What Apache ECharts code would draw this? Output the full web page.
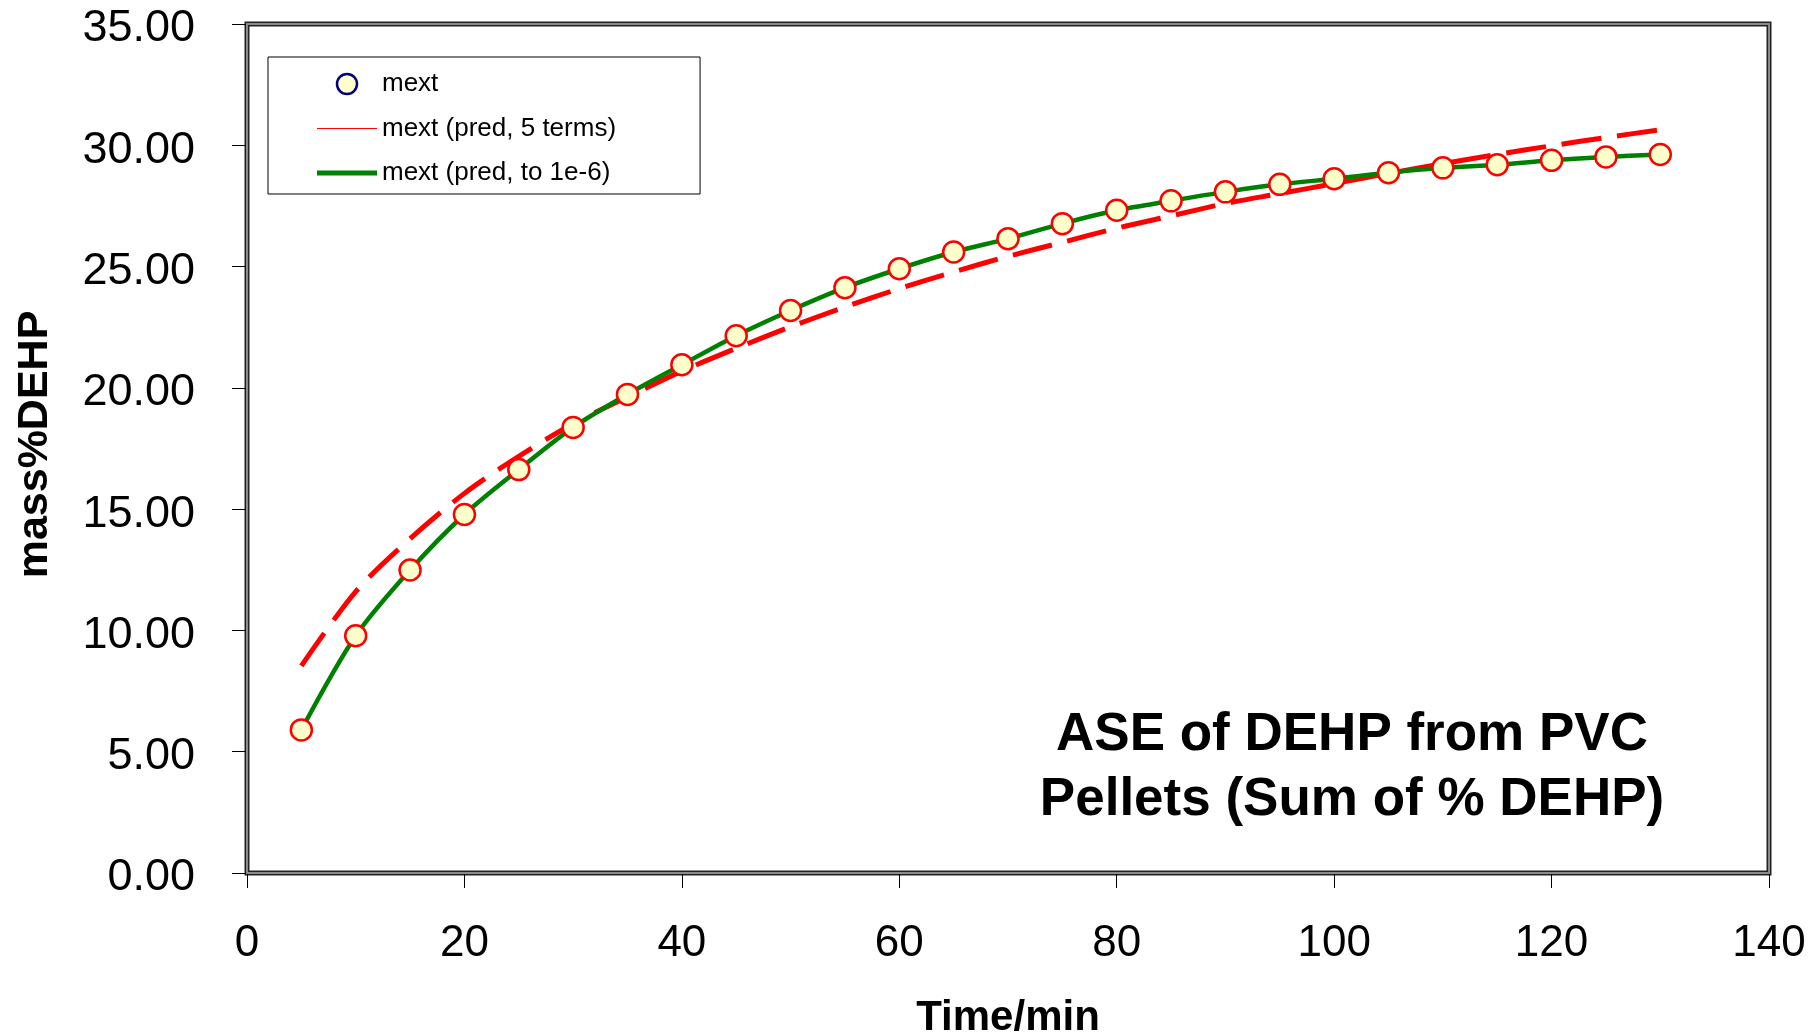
<!DOCTYPE html>
<html>
<head>
<meta charset="utf-8">
<title>ASE of DEHP from PVC Pellets</title>
<script src="https://cdn.jsdelivr.net/npm/echarts@6/dist/echarts.min.js"></script>
<style>
  html, body { margin: 0; padding: 0; background: #ffffff; overflow: hidden; }
  #chart { width: 1816px; height: 1033px; }
</style>
</head>
<body>
<div id="chart"></div>
<script>
// Extraction time (min)
const timeMin = [5, 10, 15, 20, 25, 30, 35, 40, 45, 50, 55, 60, 65,
                 70, 75, 80, 85, 90, 95, 100, 105, 110, 115, 120, 125, 130];

// Measured cumulative extraction, mass% DEHP
const mextMeasured = [5.90, 9.78, 12.49, 14.78, 16.63, 18.37, 19.73, 20.95, 22.15, 23.19,
                      24.13, 24.91, 25.60, 26.15, 26.77, 27.32, 27.71, 28.08, 28.39, 28.62,
                      28.87, 29.07, 29.20, 29.38, 29.52, 29.62];

// Model prediction truncated at 5 series terms
const mextPred5 = [8.54, 11.60, 13.78, 15.65, 17.18, 18.52, 19.62, 20.69, 21.63, 22.52,
                   23.33, 24.09, 24.78, 25.42, 26.00, 26.58, 27.09, 27.60, 28.01, 28.42,
                   28.84, 29.24, 29.62, 29.98, 30.32, 30.64];

// Model prediction summed until terms fall below 1e-6
const mextPredFull = [5.90, 9.78, 12.49, 14.78, 16.63, 18.37, 19.73, 20.95, 22.15, 23.19,
                      24.13, 24.91, 25.60, 26.15, 26.77, 27.32, 27.71, 28.08, 28.39, 28.62,
                      28.87, 29.07, 29.20, 29.38, 29.52, 29.62];

const seriesNames = ['mext', 'mext (pred, 5 terms)', 'mext (pred, to 1e-6)'];
const annotation = 'ASE of DEHP from PVC\nPellets (Sum of % DEHP)';

const FONT = 'Liberation Sans, Arial, Helvetica, sans-serif';
const W = 1816, H = 1033;
const GRID = { left: 247, top: 24, right: 47, bottom: 160 };

const pairs = (ys) => timeMin.map((t, i) => [t, ys[i]]);

const chart = echarts.init(document.getElementById('chart'), null, { renderer: 'canvas' });

chart.setOption({
  backgroundColor: '#ffffff',
  animation: false,
  grid: {
    left: GRID.left, top: GRID.top, right: GRID.right, bottom: GRID.bottom,
    containLabel: false, outerBoundsMode: 'none',
    show: true, borderColor: '#222222', borderWidth: 5, backgroundColor: 'transparent'
  },
  legend: {
    orient: 'vertical',
    left: 268, top: 57,
    padding: [14, 84, 8, 49],
    itemGap: 18.5,
    itemWidth: 60, itemHeight: 20,
    symbolKeepAspect: true,
    backgroundColor: '#ffffff',
    borderColor: '#000000', borderWidth: 1,
    borderRadius: 0,
    selectedMode: false,
    textStyle: { fontFamily: FONT, fontSize: 26, color: '#000000' },
    data: [
      { name: seriesNames[0], icon: 'circle',
        itemStyle: { color: '#FFFFCC', borderColor: '#000080', borderWidth: 2.5 } },
      { name: seriesNames[1], icon: 'path://M0,0H60V1H0Z',
        itemStyle: { color: '#FF0000', borderWidth: 0 } },
      { name: seriesNames[2], icon: 'path://M0,0H60V5H0Z',
        itemStyle: { color: '#008000', borderWidth: 0 } }
    ]
  },
  xAxis: {
    type: 'value', min: 0, max: 140, interval: 20,
    name: 'Time/min', nameLocation: 'middle', nameGap: 124,
    nameTextStyle: { fontFamily: FONT, fontSize: 42, fontWeight: 'bold', color: '#000000' },
    axisLine: { show: true, onZero: false, lineStyle: { color: '#000000', width: 1 } },
    axisTick: { show: true, inside: false, length: 15, lineStyle: { color: '#000000', width: 1 } },
    axisLabel: { margin: 49, fontFamily: FONT, fontSize: 44, color: '#000000' },
    splitLine: { show: false }
  },
  yAxis: {
    type: 'value', min: 0, max: 35, interval: 5,
    name: 'mass%DEHP', nameLocation: 'middle', nameGap: 190,
    nameTextStyle: {
      fontFamily: FONT, fontSize: 43, fontWeight: 'bold', color: '#000000',
      padding: [0, 0, 0, 8]
    },
    axisLine: { show: true, onZero: false, lineStyle: { color: '#000000', width: 1 } },
    axisTick: { show: true, inside: false, length: 15, lineStyle: { color: '#000000', width: 1 } },
    axisLabel: {
      margin: 52, fontFamily: FONT, fontSize: 45, color: '#000000',
      verticalAlign: 'top', lineHeight: 10,
      formatter: (v) => v.toFixed(2)
    },
    splitLine: { show: false }
  },
  graphic: [
    {
      // grey inner band of the plot-area frame
      type: 'rect', z: 50, silent: true,
      shape: { x: GRID.left, y: GRID.top, width: W - GRID.left - GRID.right, height: H - GRID.top - GRID.bottom },
      style: { fill: 'transparent', stroke: '#8a8a8a', lineWidth: 2 }
    },
    {
      type: 'text', z: 60, silent: true,
      style: {
        text: annotation, x: 1352, y: 768, textAlign: 'center', textVerticalAlign: 'middle',
        font: 'bold 53px ' + FONT, lineHeight: 65, fill: '#000000'
      }
    }
  ],
  series: [
    {
      name: seriesNames[1], type: 'line', data: pairs(mextPred5),
      smooth: 0.3, showSymbol: false, symbol: 'none', z: 3,
      lineStyle: { color: '#FF0000', width: 5, type: [40, 16] },
      itemStyle: { color: '#FF0000' }
    },
    {
      name: seriesNames[2], type: 'line', data: pairs(mextPredFull),
      smooth: 0.3, showSymbol: false, symbol: 'none', z: 4,
      lineStyle: { color: '#008000', width: 4.5, type: 'solid' },
      itemStyle: { color: '#008000' }
    },
    {
      name: seriesNames[0], type: 'scatter', data: pairs(mextMeasured),
      symbol: 'circle', symbolSize: 21, z: 5,
      itemStyle: { color: '#FFFFCC', borderColor: '#FF0000', borderWidth: 2.5, opacity: 1 }
    }
  ]
});
</script>
</body>
</html>
